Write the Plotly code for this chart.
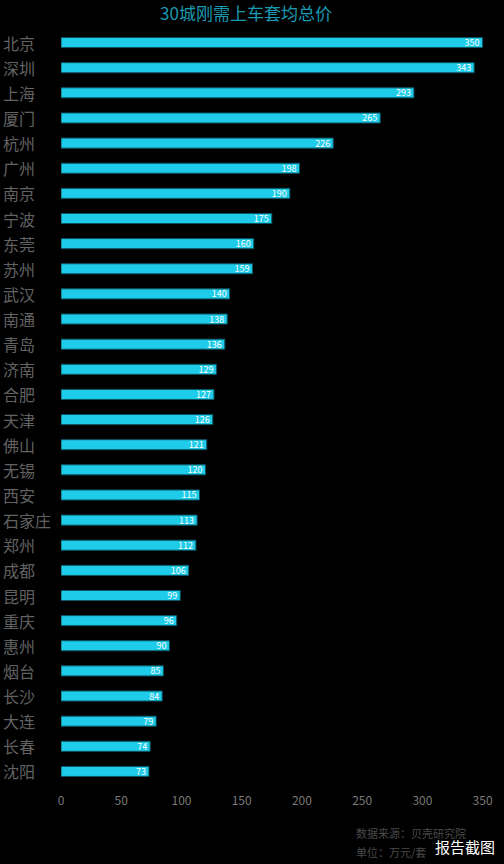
"""
Bar chart: 30城刚需上车套均总价 (horizontal bars, dark background)
"""

import plotly.graph_objects as go

cities = ['北京', '深圳', '上海', '厦门', '杭州', '广州', '南京', '宁波', '东莞', '苏州',
          '武汉', '南通', '青岛', '济南', '合肥', '天津', '佛山', '无锡', '西安', '石家庄',
          '郑州', '成都', '昆明', '重庆', '惠州', '烟台', '长沙', '大连', '长春', '沈阳']
prices = [350, 343, 293, 265, 226, 198, 190, 175, 160, 159,
          140, 138, 136, 129, 127, 126, 121, 120, 115, 113,
          112, 106, 99, 96, 90, 85, 84, 79, 74, 73]
x_ticks = [0, 50, 100, 150, 200, 250, 300, 350]
title_text = '30城刚需上车套均总价'
source_text = '数据来源：贝壳研究院'
unit_text = '单位：万元/套'
watermark = '报告截图'

FONT = 'Noto Sans CJK SC'

# plot area in page pixels
L, R, T, B = 61, 485, 30, 784


def px_x(p):
    return (p - L) / (R - L)


def px_y(p):
    return (B - p) / (B - T)


def draw_plots():
    fig = go.Figure()
    fig.add_trace(go.Bar(
        x=prices,
        y=cities,
        orientation='h',
        width=0.4,
        marker=dict(color='#1ecbe8', line=dict(color='#0b5663', width=1)),
        text=[str(v) for v in prices],
        textposition='inside',
        insidetextanchor='end',
        textangle=0,
        constraintext='none',
        textfont=dict(color='white', size=9, family=FONT),
        hoverinfo='x+y',
    ))

    # city names, left aligned at the page edge
    for c in cities:
        fig.add_annotation(x=px_x(1), y=c, xref='paper', yref='y', text=c,
                           showarrow=False, xanchor='left', yanchor='middle',
                           font=dict(color='#626262', size=16, family=FONT))

    fig.update_layout(
        width=504, height=864,
        paper_bgcolor='black', plot_bgcolor='black',
        margin=dict(l=L, r=504 - R, t=T, b=864 - B),
        showlegend=False,
        title=dict(text=title_text, x=246 / 504, xanchor='center', y=1 - 14 / 864,
                   yanchor='middle', font=dict(color='#1a9ab0', size=17, family=FONT)),
        font=dict(family=FONT),
    )
    fig.update_xaxes(range=[0, 352], tickvals=x_ticks, showgrid=False, zeroline=False,
                     showline=False, ticks='', tickfont=dict(color='#7a7a7a', size=12),
                     ticklabelstandoff=8)
    fig.update_yaxes(showticklabels=False, showgrid=False,
                     zeroline=False, showline=False, range=[29.5, -0.5])

    fig.add_annotation(x=px_x(354), y=px_y(833), xref='paper', yref='paper',
                       text=source_text, showarrow=False, xanchor='left', yanchor='middle',
                       font=dict(color='#4a4a4a', size=11, family=FONT))
    fig.add_annotation(x=px_x(354), y=px_y(852), xref='paper', yref='paper',
                       text=unit_text, showarrow=False, xanchor='left', yanchor='middle',
                       font=dict(color='#4a4a4a', size=11, family=FONT))
    fig.add_annotation(x=px_x(433), y=px_y(846), xref='paper', yref='paper',
                       text=watermark, showarrow=False, xanchor='left', yanchor='middle',
                       font=dict(color='white', size=15, family=FONT))

    fig.write_html('out.html', config={'displayModeBar': False},
                   post_script="document.body.style.margin='0';document.body.style.background='black';")


def main():
    draw_plots()


if __name__ == '__main__':
    main()
